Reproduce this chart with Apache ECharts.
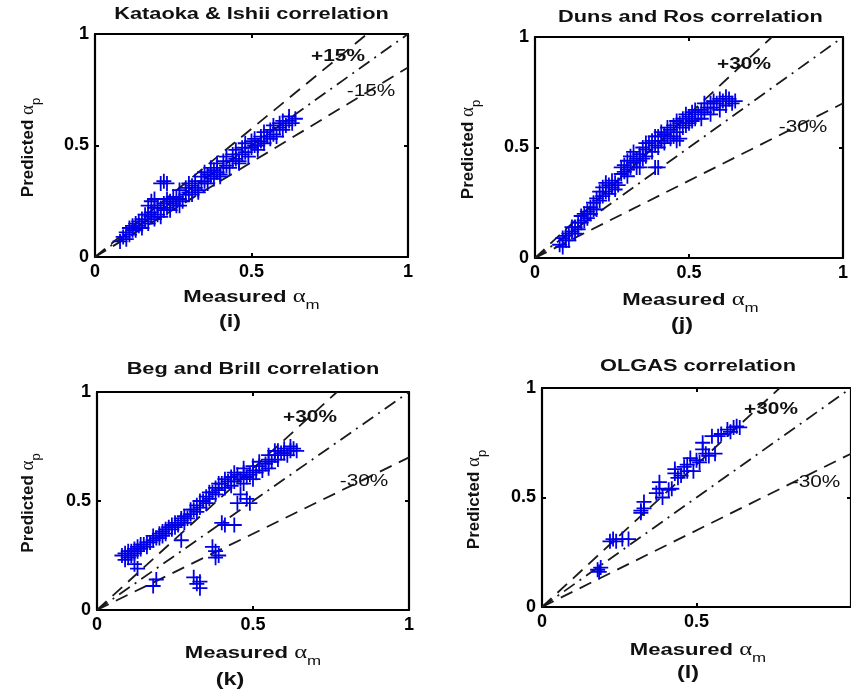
<!DOCTYPE html>
<html>
<head>
<meta charset="UTF-8">
<title>Void fraction correlations</title>
<script src="https://cdn.jsdelivr.net/npm/echarts@6/dist/echarts.min.js"></script>
<style>
  html, body { margin: 0; padding: 0; background: #fff; }
  #main { width: 851px; height: 696px; }
</style>
</head>
<body>
<div id="main"></div>
<script>
// axis ticks (same for all four panels)
var tickMin = 0, tickMax = 1, tickStep = 0.5;

// (i) Kataoka & Ishii
var kataokaMeasured = [0.08,0.09,0.10,0.10,0.11,0.12,0.12,0.13,0.13,0.14,0.15,0.15,0.16,0.17,0.17,0.18,0.19,0.19,0.20,0.21,
  0.21,0.22,0.22,0.23,0.24,0.24,0.25,0.26,0.26,0.27,0.28,0.29,0.29,0.30,0.31,0.31,0.32,0.33,0.34,0.34,
  0.35,0.36,0.36,0.37,0.38,0.38,0.39,0.40,0.41,0.41,0.42,0.43,0.44,0.44,0.45,0.46,0.47,0.47,0.48,0.49,
  0.50,0.50,0.51,0.52,0.53,0.53,0.54,0.55,0.56,0.56,0.57,0.58,0.59,0.59,0.60,0.61,0.62,0.63,0.64,
  0.21,0.22,0.23,0.19,0.18,0.17,
  0.11,0.14,0.16,0.18,0.20,0.23,0.25,0.27,0.30,0.32,0.35,0.37,0.39,0.42,0.45,0.48,0.51,0.54,0.57,0.60,
  0.62,0.27,0.33,0.40,0.46,0.52];
var kataokaPredicted = [0.07,0.09,0.08,0.11,0.10,0.12,0.14,0.12,0.15,0.14,0.13,0.17,0.16,0.15,0.19,0.18,0.17,0.22,0.19,0.18,
  0.22,0.21,0.24,0.22,0.21,0.25,0.24,0.23,0.27,0.26,0.25,0.28,0.31,0.29,0.28,0.32,0.31,0.30,0.33,0.36,
  0.34,0.33,0.37,0.36,0.35,0.39,0.38,0.37,0.40,0.43,0.41,0.40,0.43,0.46,0.44,0.43,0.46,0.49,0.47,0.45,
  0.49,0.52,0.50,0.48,0.52,0.54,0.51,0.54,0.53,0.57,0.55,0.54,0.58,0.60,0.57,0.59,0.61,0.60,0.62,
  0.33,0.34,0.33,0.26,0.25,0.23,
  0.13,0.16,0.19,0.20,0.23,0.26,0.27,0.30,0.33,0.34,0.38,0.40,0.42,0.45,0.48,0.51,0.53,0.56,0.59,0.61,
  0.63,0.23,0.29,0.36,0.42,0.50];

// (j) Duns and Ros
var dunsMeasured = [0.08,0.09,0.09,0.10,0.11,0.11,0.12,0.13,0.13,0.14,0.15,0.15,0.16,0.17,0.17,0.18,0.18,0.19,0.20,0.20,
  0.21,0.22,0.22,0.23,0.24,0.24,0.25,0.26,0.26,0.27,0.28,0.29,0.29,0.30,0.31,0.31,0.32,0.33,0.33,0.34,
  0.35,0.35,0.36,0.37,0.38,0.38,0.39,0.40,0.40,0.41,0.42,0.42,0.43,0.44,0.45,0.45,0.46,0.47,0.48,0.48,
  0.49,0.50,0.51,0.51,0.52,0.53,0.54,0.54,0.55,0.56,0.57,0.57,0.58,0.59,0.60,0.61,0.62,0.63,0.64,0.65,
  0.39,0.40,0.34,0.46,0.47,0.30,
  0.10,0.12,0.14,0.16,0.19,0.21,0.23,0.25,0.28,0.30,0.32,0.34,0.36,0.39,0.41,0.43,0.46,0.49,0.52,0.55,
  0.58,0.60,0.62,0.36,0.44,0.50];
var dunsPredicted = [0.06,0.09,0.05,0.08,0.11,0.08,0.12,0.14,0.11,0.13,0.16,0.19,0.17,0.21,0.18,0.23,0.20,0.25,0.22,0.27,
  0.30,0.28,0.32,0.30,0.33,0.29,0.32,0.34,0.31,0.33,0.38,0.42,0.39,0.44,0.41,0.46,0.43,0.45,0.41,0.47,
  0.50,0.45,0.49,0.52,0.48,0.53,0.51,0.55,0.50,0.53,0.56,0.52,0.55,0.58,0.60,0.55,0.57,0.61,0.59,0.63,
  0.60,0.64,0.62,0.66,0.63,0.65,0.67,0.63,0.66,0.68,0.65,0.70,0.68,0.70,0.67,0.71,0.69,0.72,0.70,0.71,
  0.41,0.41,0.41,0.53,0.54,0.37,
  0.10,0.14,0.16,0.20,0.22,0.26,0.34,0.35,0.41,0.40,0.48,0.44,0.52,0.55,0.57,0.59,0.62,0.65,0.67,0.70,
  0.71,0.72,0.73,0.46,0.54,0.61];

// (k) Beg and Brill
var begMeasured = [0.08,0.09,0.09,0.10,0.11,0.11,0.12,0.13,0.13,0.14,0.15,0.16,0.17,0.18,0.19,0.20,0.21,0.21,0.22,0.23,
  0.24,0.24,0.25,0.26,0.27,0.28,0.28,0.29,0.30,0.31,0.32,0.32,0.33,0.34,0.35,0.35,0.36,0.37,0.38,0.38,
  0.39,0.40,0.41,0.42,0.43,0.43,0.44,0.45,0.46,0.47,0.47,0.48,0.49,0.50,0.50,0.51,0.52,0.53,0.54,0.55,
  0.55,0.56,0.57,0.58,0.58,0.59,0.60,0.61,0.62,0.63,0.64,
  0.12,0.13,0.19,0.18,0.27,0.31,0.32,0.33,0.33,0.37,0.38,0.39,0.38,0.40,0.41,0.44,0.45,0.49,0.48,0.46,
  0.10,0.12,0.14,0.16,0.18,0.20,0.22,0.25,0.27,0.30,0.33,0.36,0.39,0.41,0.44,0.47,0.50,0.52,0.55,0.57,
  0.60,0.62];
var begPredicted = [0.25,0.23,0.26,0.24,0.27,0.25,0.28,0.27,0.29,0.28,0.30,0.29,0.31,0.32,0.33,0.35,0.36,0.34,0.37,0.38,
  0.37,0.39,0.40,0.39,0.41,0.40,0.43,0.42,0.44,0.46,0.45,0.48,0.47,0.50,0.49,0.52,0.51,0.54,0.53,0.56,
  0.55,0.58,0.56,0.59,0.57,0.61,0.59,0.62,0.60,0.58,0.63,0.61,0.62,0.60,0.64,0.63,0.66,0.64,0.67,0.65,
  0.69,0.68,0.71,0.69,0.73,0.72,0.74,0.71,0.73,0.74,0.73,
  0.21,0.19,0.14,0.11,0.32,0.15,0.12,0.13,0.10,0.29,0.27,0.25,0.24,0.40,0.39,0.39,0.49,0.49,0.51,0.53,
  0.27,0.26,0.30,0.31,0.34,0.33,0.35,0.38,0.42,0.46,0.50,0.54,0.58,0.60,0.63,0.65,0.66,0.68,0.71,0.73,
  0.72,0.75];

// (l) OLGAS
var olgasMeasured = [0.18,0.19,0.185,0.22,0.23,0.24,0.26,0.28,0.32,0.32,0.33,0.33,0.37,0.38,0.38,0.39,0.41,0.42,0.43,0.43,
  0.44,0.45,0.46,0.47,0.47,0.48,0.49,0.50,0.51,0.52,0.52,0.53,0.54,0.55,0.56,0.57,0.58,0.60,0.61,0.62,0.63,0.64];
var olgasPredicted = [0.17,0.18,0.16,0.30,0.31,0.30,0.31,0.31,0.44,0.43,0.45,0.48,0.52,0.54,0.57,0.50,0.535,0.54,0.61,0.63,
  0.59,0.60,0.64,0.65,0.62,0.68,0.62,0.67,0.66,0.72,0.75,0.70,0.69,0.78,0.70,0.78,0.79,0.81,0.80,0.82,0.825,0.82];

// error band (%) drawn in each panel
var bandPercent = [15, 30, 30, 30];
var titles = ['Kataoka & Ishii correlation', 'Duns and Ros correlation', 'Beg and Brill correlation', 'OLGAS correlation'];
var tags = ['(i)', '(j)', '(k)', '(l)'];

var panels = [
  { x: kataokaMeasured, y: kataokaPredicted, grid: {left: 95, top: 34, width: 313, height: 223},
    titleY: 15, nameY: 297, tagX: 230, tagY: 322, predX: 28, plusAt: [338, 57], minusAt: [371, 92] },
  { x: dunsMeasured, y: dunsPredicted, grid: {left: 535, top: 37, width: 311, height: 221},
    titleY: 18, nameY: 300, tagX: 682, tagY: 325, predX: 468, plusAt: [744, 65], minusAt: [803, 128] },
  { x: begMeasured, y: begPredicted, grid: {left: 97, top: 392, width: 312, height: 218},
    titleY: 370, nameY: 653, tagX: 230, tagY: 680, predX: 28, plusAt: [310, 418], minusAt: [364, 482] },
  { x: olgasMeasured, y: olgasPredicted, grid: {left: 542, top: 388, width: 312, height: 219},
    titleY: 367, nameY: 650, tagX: 688, tagY: 673, predX: 474, plusAt: [771, 410], minusAt: [816, 483], cut: true }
];

var FONT = '"Liberation Sans", Arial, sans-serif';
var PLUS = 'path://M0,4.4H10V5.6H0ZM4.4,0H5.6V10H4.4Z';

function zip(a, b) {
  var out = [];
  for (var i = 0; i < a.length; i++) out.push([a[i], b[i]]);
  return out;
}

function axisBase(idx, pos, labels, hideMax) {
  return {
    type: 'value', gridIndex: idx, position: pos,
    min: tickMin, max: tickMax, interval: tickStep,
    axisLine: { show: true, onZero: false, lineStyle: { color: '#000', width: 2.2 } },
    axisTick: { show: true, inside: true, length: 4, lineStyle: { color: '#000', width: 2 } },
    axisLabel: { show: labels, showMaxLabel: !hideMax, color: '#000', fontFamily: FONT, fontWeight: 'bold', fontSize: 18, margin: 6 },
    splitLine: { show: false }
  };
}

var grids = [], xAxes = [], yAxes = [], series = [], graphics = [];

panels.forEach(function (p, i) {
  grids.push(p.grid);
  xAxes.push(axisBase(i, 'bottom', true, p.cut), axisBase(i, 'top', false));
  yAxes.push(axisBase(i, 'left', true), axisBase(i, 'right', false));
  var xi = i * 2, yi = i * 2;

  var lineCommon = { type: 'line', xAxisIndex: xi, yAxisIndex: yi, symbol: 'none', silent: true, z: 1 };
  var up = 1 + bandPercent[i] / 100, lo = 1 - bandPercent[i] / 100;
  var upEnd = Math.min(1, 1 / up);
  series.push(Object.assign({}, lineCommon, {
    data: [[0, 0], [upEnd, up * upEnd]],
    lineStyle: { color: '#1a1a1a', width: 1.8, type: [13, 8] }
  }));
  series.push(Object.assign({}, lineCommon, {
    data: [[0, 0], [1, 1]],
    lineStyle: { color: '#1a1a1a', width: 1.8, type: [13, 6, 2, 6] }
  }));
  series.push(Object.assign({}, lineCommon, {
    data: [[0, 0], [1, lo]],
    lineStyle: { color: '#1a1a1a', width: 1.8, type: [13, 8] }
  }));
  series.push({
    type: 'scatter', xAxisIndex: xi, yAxisIndex: yi, z: 3,
    data: zip(p.x, p.y), symbol: PLUS, symbolSize: 15,
    itemStyle: { color: '#0000e6', opacity: 1 }
  });

  var cx = p.grid.left + p.grid.width / 2;
  var cy = p.grid.top + p.grid.height / 2;
  var rich = {
    a: { fontFamily: FONT, fontWeight: 'bold', fontSize: 17, verticalAlign: 'middle', lineHeight: 30 },
    b: { fontFamily: '"Liberation Serif", serif', fontSize: 19, verticalAlign: 'middle', lineHeight: 30 },
    c: { fontFamily: FONT, fontSize: 13, verticalAlign: 'bottom', lineHeight: 14 }
  };
  graphics.push({
    type: 'text', x: cx, y: p.titleY, scaleX: 1.36,
    style: { text: titles[i], fill: '#111', font: 'bold 16px ' + FONT,
      textAlign: 'center', textVerticalAlign: 'middle', align: 'center', verticalAlign: 'middle' }
  });
  graphics.push({
    type: 'text', x: cx, y: p.nameY, scaleX: 1.3,
    style: { text: '{a|Measured }{b|α}{c|m}', fill: '#111',
      textAlign: 'center', textVerticalAlign: 'middle', align: 'center', verticalAlign: 'middle', rich: rich }
  });
  graphics.push({
    type: 'text', x: p.predX, y: cy + 2, rotation: Math.PI / 2,
    style: { text: '{a|Predicted }{b|α}{c|p}', fill: '#111',
      textAlign: 'center', textVerticalAlign: 'middle', align: 'center', verticalAlign: 'middle', rich: rich }
  });
  graphics.push({
    type: 'text', x: p.tagX, y: p.tagY, scaleX: 1.3,
    style: { text: tags[i], fill: '#111', font: 'bold 18px ' + FONT,
      textAlign: 'center', textVerticalAlign: 'middle', align: 'center', verticalAlign: 'middle' }
  });
  graphics.push({
    type: 'text', x: p.plusAt[0], y: p.plusAt[1], scaleX: 1.3, z: 10,
    style: { text: '+' + bandPercent[i] + '%', fill: '#111', font: 'bold 16px ' + FONT,
      textAlign: 'center', textVerticalAlign: 'middle', align: 'center', verticalAlign: 'middle' }
  });
  graphics.push({
    type: 'text', x: p.minusAt[0], y: p.minusAt[1], scaleX: 1.3, z: 10,
    style: { text: '-' + bandPercent[i] + '%', fill: '#111', font: '16px ' + FONT,
      textAlign: 'center', textVerticalAlign: 'middle', align: 'center', verticalAlign: 'middle' }
  });
});

var chart = echarts.init(document.getElementById('main'), null, { renderer: 'canvas' });
chart.setOption({
  backgroundColor: '#fff',
  animation: false,
  grid: grids,
  xAxis: xAxes,
  yAxis: yAxes,
  series: series,
  graphic: graphics
});
</script>
</body>
</html>
